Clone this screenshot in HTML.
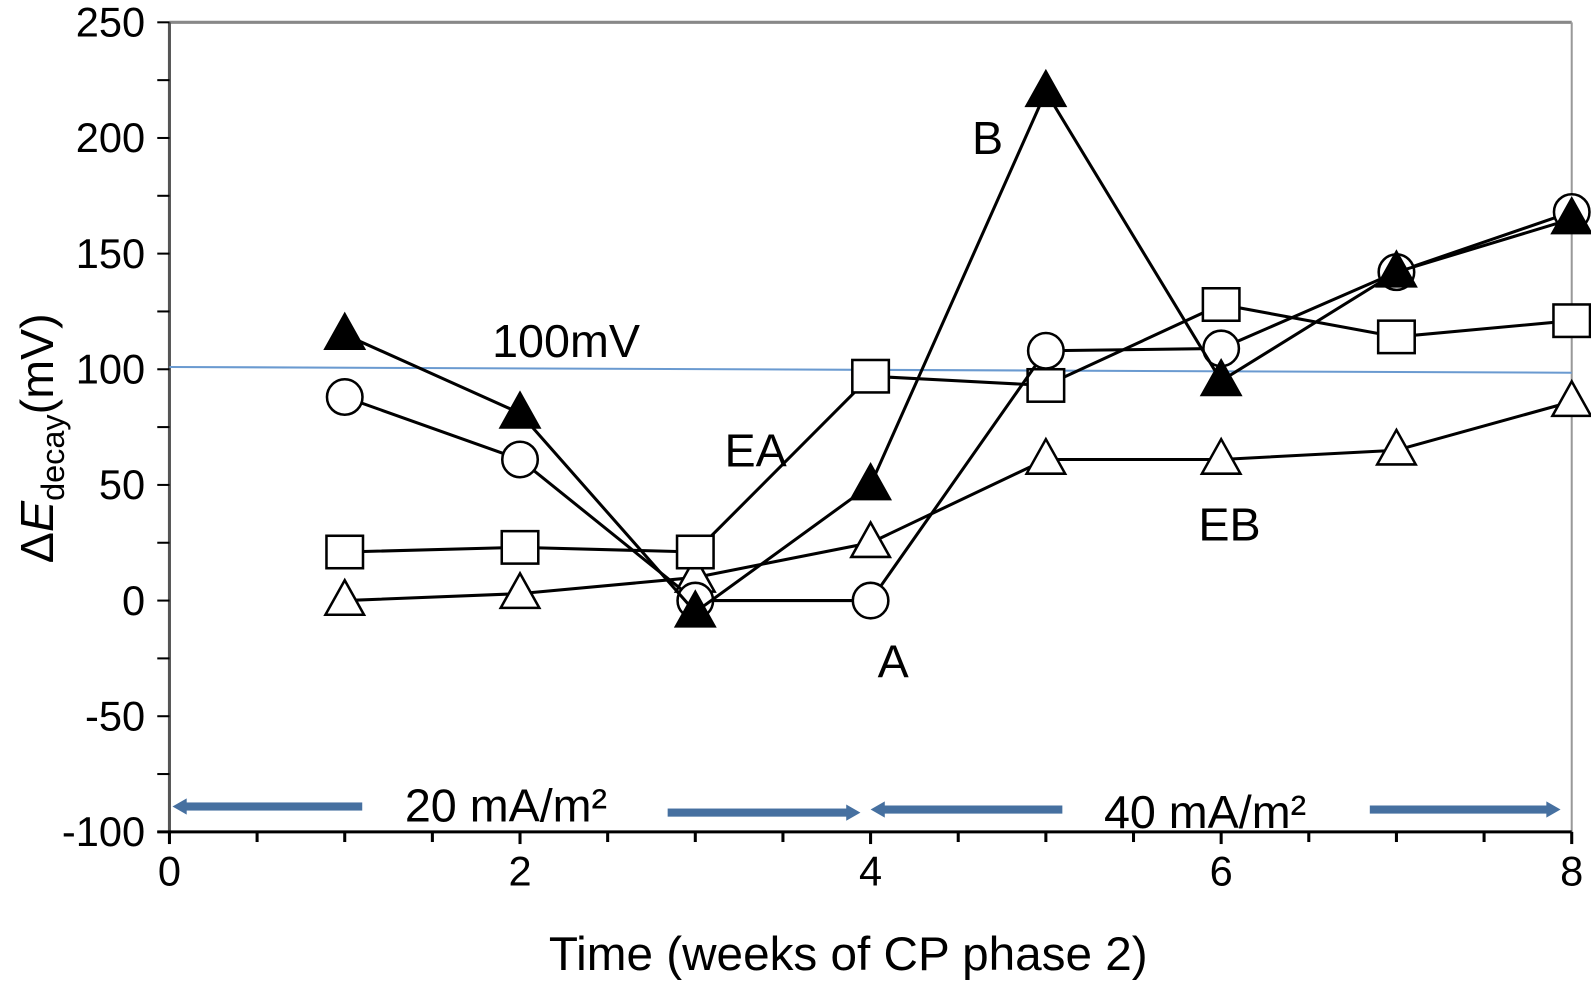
<!DOCTYPE html>
<html><head><meta charset="utf-8"><style>
html,body{margin:0;padding:0;background:#fff;}
svg{display:block;font-family:"Liberation Sans",Arial,sans-serif;}
</style></head><body>
<svg id="chart" width="1591" height="981" viewBox="0 0 1568 967" preserveAspectRatio="none">
<g id="axes"></g><g id="series"></g><g id="labels"></g>
</svg>
<script>
const xTicks=[0,2,4,6,8];
const yTicks=[250,200,150,100,50,0,-50,-100];
const weeks=[1,2,3,4,5,6,7,8];
const seriesB=[115,81,-5,50,220,95,142,165];
const seriesA=[88,61,0,0,108,109,142,168];
const seriesEA=[21,23,21,97,93,128,114,121];
const seriesEB=[0,3,10,25,61,61,65,86];
const refLine=[101,98.5];

const NS="http://www.w3.org/2000/svg";
const X=v=>167+v*(1549-167)/8;
const Y=v=>592-v*2.28;
function mk(tag,attrs,parent,text){const e=document.createElementNS(NS,tag);for(const k in attrs)e.setAttribute(k,attrs[k]);if(text!==undefined)e.textContent=text;parent.appendChild(e);return e;}
const axes=document.getElementById('axes'),ser=document.getElementById('series'),lab=document.getElementById('labels');

let el;
el=mk('line',{x1:X(0),y1:Y(250),x2:X(8),y2:Y(250),stroke:'#888','stroke-width':3},axes);


el=mk('line',{x1:X(8),y1:Y(250),x2:X(8),y2:Y(-100),stroke:'#999','stroke-width':2},axes);


el=mk('line',{x1:X(0),y1:Y(250),x2:X(0),y2:Y(-100),stroke:'#555','stroke-width':3},axes);


el=mk('line',{x1:X(0)-12,y1:Y(-100),x2:X(8),y2:Y(-100),stroke:'#000','stroke-width':3},axes);


for(let v=-100;v<=250;v+=25){
  el=mk('line',{x1:X(0)-12,y1:Y(v),x2:X(0),y2:Y(v),stroke:'#000','stroke-width':2},axes);
  
  
}
yTicks.forEach(v=>{
  el=mk('text',{x:X(0)-24,y:Y(v)+14,'font-size':41,'text-anchor':'end'},axes,String(v));
  
  
});
for(let v=0;v<=8;v+=0.5){
  el=mk('line',{x1:X(v),y1:Y(-100),x2:X(v),y2:Y(-100)+(v%2===0?12:10),stroke:'#000','stroke-width':3},axes);
  
  
}
xTicks.forEach(v=>{
  el=mk('text',{x:X(v),y:873,'font-size':41,'text-anchor':'middle'},axes,String(v));
  
  
});
el=mk('text',{x:836,y:956,'font-size':47,'text-anchor':'middle'},axes,'Time (weeks of CP phase 2)');


el=mk('text',{transform:'translate(52,432) rotate(-90)','font-size':46,'text-anchor':'middle'},axes);


el.innerHTML='Δ<tspan font-style="italic">E</tspan><tspan font-size="32" dy="11">decay</tspan><tspan dy="-11">(mV)</tspan>';

el=mk('line',{x1:X(0),y1:Y(refLine[0]),x2:X(8),y2:Y(refLine[1]),stroke:'#6a9ad0','stroke-width':2},axes);



function drawSeries(name,vals){
  const g=mk('g',{},ser);
  
  
  const pts=weeks.map((w,i)=>X(w)+','+Y(vals[i])).join(' ');
  el=mk('polyline',{points:pts,fill:'none',stroke:'#000','stroke-width':3},g);
  
  
  return g;
}
function drawMarkers(g,name,vals,marker){
  weeks.forEach((w,i)=>{
    const cx=X(w),cy=Y(vals[i]);let m;
    if(marker==='circle')m=mk('circle',{cx,cy,r:17.5,fill:'#fff',stroke:'#000','stroke-width':2.5},g);
    else if(marker==='square')m=mk('rect',{x:cx-18,y:cy-16,width:36,height:32,fill:'#fff',stroke:'#000','stroke-width':2.5},g);
    else{const f=marker==='filled'?'#000':'#fff';m=mk('polygon',{points:`${cx},${cy-20} ${cx-19},${cy+14} ${cx+19},${cy+14}`,fill:f,stroke:'#000','stroke-width':2.5},g);}
    
    
  });
}
const defs=[['eb',seriesEB,'open'],['ea',seriesEA,'square'],['a',seriesA,'circle'],['b',seriesB,'filled']];
const gs=defs.map(d=>drawSeries(d[0],d[1]));
defs.forEach((d,i)=>drawMarkers(gs[i],d[0],d[1],d[2]));

[['100mV',485,352],['B',958,152],['EA',714,460],['EB',1181,533],['A',865,668]].forEach(a=>{
  el=mk('text',{x:a[1],y:a[2],'font-size':46},lab,a[0]);
  
  
});
el=mk('text',{x:399,y:810,'font-size':46},lab,'20 mA/m²');


el=mk('text',{x:1088,y:816,'font-size':46},lab,'40 mA/m²');


function arrow(x1,x2,dir,y){
  const c='#4670a0';const g=mk('g',{},lab);
  
  
  if(dir<0){mk('rect',{x:x1+12,y:y-4,width:x2-x1-12,height:8,fill:c},g);mk('polygon',{points:`${x1},${y} ${x1+14},${y-8} ${x1+14},${y+8}`,fill:c},g);}
  else{mk('rect',{x:x1,y:y-4,width:x2-x1-12,height:8,fill:c},g);mk('polygon',{points:`${x2},${y} ${x2-14},${y-8} ${x2-14},${y+8}`,fill:c},g);}
}
arrow(170,357,-1,795);arrow(658,848,1,801);arrow(858,1047,-1,798);arrow(1350,1538,1,798);
</script>
</body></html>
